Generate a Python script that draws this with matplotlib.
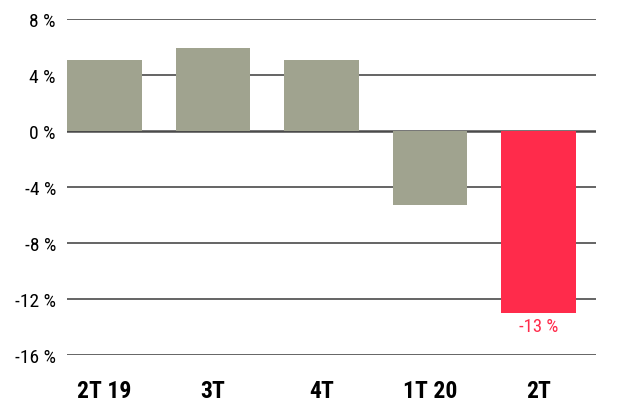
import matplotlib
matplotlib.use("Agg")
from matplotlib import pyplot as plt

quarters = ["2T 19", "3T", "4T", "1T 20", "2T"]
growth = [5.1, 5.9, 5.1, -5.3, -13.0]
bar_colors = ["#a0a38f", "#a0a38f", "#a0a38f", "#a0a38f", "#ff2b4b"]
y_ticks = [8, 4, 0, -4, -8, -12, -16]
y_labels = ["8 %", "4 %", "0 %", "-4 %", "-8 %", "-12 %", "-16 %"]

plt.rcParams['font.family'] = ['Roboto Condensed', 'Liberation Sans Narrow', 'Roboto', 'DejaVu Sans']

fig = plt.figure(figsize=(6.44, 4.14), dpi=100)
ax = fig.add_axes([67 / 644, 58 / 414, 529 / 644, 336 / 414])

for y in y_ticks:
    ax.axhline(y, color="#4a4a4a", lw=1.8 if y == 0 else 1.2, zorder=1)

pos = list(range(len(quarters)))
ax.bar(pos, growth, width=0.69, color=bar_colors, zorder=2)
ax.text(4, growth[4] - 0.3, "-13 %", ha="center", va="top",
        color="#ff2b4b", fontsize=13.5)

ax.set_xlim(-0.345, 4.53)
ax.set_ylim(-16, 8)
ax.set_yticks(y_ticks)
ax.set_yticklabels(y_labels, fontsize=14)
ax.set_xticks(pos)
ax.set_xticklabels(quarters, fontsize=17, fontweight="bold")
ax.tick_params(length=0, pad=8)
ax.tick_params(axis="x", pad=17)
for s in ax.spines.values():
    s.set_visible(False)

fig.savefig("out.png", dpi=100)
